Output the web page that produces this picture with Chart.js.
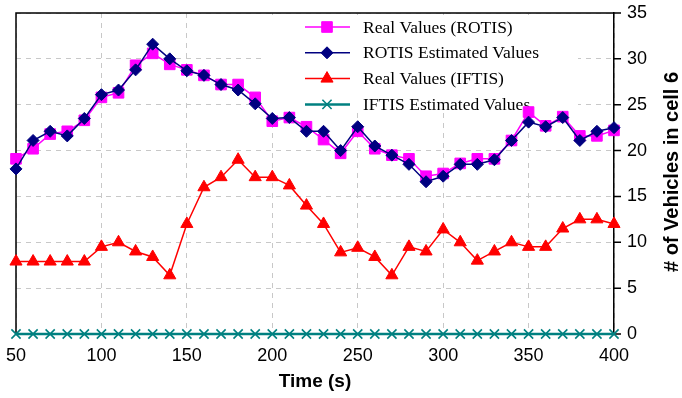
<!DOCTYPE html>
<html>
<head>
<meta charset="utf-8">
<script src="https://cdn.jsdelivr.net/npm/chart.js@4.4.0/dist/chart.umd.min.js"></script>
<style>
  html, body { margin: 0; padding: 0; background: #ffffff; }
</style>
</head>
<body>
<canvas id="cellChart" width="682" height="398"></canvas>
<script>
const timeSteps = [50, 60, 70, 80, 90, 100, 110, 120, 130, 140, 150, 160, 170, 180, 190, 200, 210, 220,
                   230, 240, 250, 260, 270, 280, 290, 300, 310, 320, 330, 340, 350, 360, 370, 380, 390, 400];

const realRotis = [19.1, 20.2, 21.8, 22.1, 23.3, 25.8, 26.3, 29.3, 30.6, 29.4, 28.8, 28.2, 27.2, 27.2, 25.8, 23.2, 23.6, 22.6,
                   21.2, 19.7, 22.1, 20.2, 19.5, 19.1, 17.2, 17.5, 18.6, 19.1, 19.1, 21.1, 24.2, 22.7, 23.7, 21.6, 21.6, 22.2];

const rotisEstimated = [18.0, 21.1, 22.1, 21.6, 23.5, 26.1, 26.6, 28.8, 31.6, 30.0, 28.7, 28.2, 27.2, 26.6, 25.1, 23.5, 23.6, 22.1,
                        22.1, 20.0, 22.6, 20.5, 19.5, 18.5, 16.6, 17.2, 18.5, 18.5, 19.0, 21.1, 23.1, 22.6, 23.6, 21.1, 22.1, 22.5];

const realIftis = [7.9, 7.9, 7.9, 7.9, 7.9, 9.5, 10.0, 9.0, 8.4, 6.4, 12.0, 16.0, 17.1, 19.0, 17.1, 17.1, 16.2, 14.0,
                   12.0, 8.9, 9.4, 8.4, 6.4, 9.5, 9.0, 11.4, 10.0, 8.0, 9.0, 10.0, 9.5, 9.5, 11.5, 12.5, 12.5, 12.0];

const iftisEstimated = [0, 0, 0, 0, 0, 0, 0, 0, 0, 0, 0, 0, 0, 0, 0, 0, 0, 0,
                        0, 0, 0, 0, 0, 0, 0, 0, 0, 0, 0, 0, 0, 0, 0, 0, 0, 0];

const yTicks = [0, 5, 10, 15, 20, 25, 30, 35];
const xTitle = 'Time (s)';
const yTitle = '# of Vehicles in cell 6';


function toPoints(values) {
    return timeSteps.map((t, i) => ({ x: t, y: values[i] }));
}

// legend box, frame, y tick marks and the right-hand title (reads bottom to top)
const frameAndLegend = {
    id: 'frameAndLegend',
    beforeDatasetsDraw(chart) {
        const ctx = chart.ctx;
        const area = chart.chartArea;
        const yScale = chart.scales.y;

        ctx.save();
        ctx.fillStyle = '#ffffff';
        ctx.fillRect(265, 15, 313, 97);

        ctx.strokeStyle = '#000000';
        ctx.lineWidth = 1.5;
        ctx.beginPath();
        ctx.moveTo(area.left, area.bottom);
        ctx.lineTo(area.left, area.top);
        ctx.lineTo(area.right, area.top);
        yTicks.forEach(v => {
            const py = yScale.getPixelForValue(v);
            ctx.moveTo(area.right, py);
            ctx.lineTo(area.right + 7, py);
        });
        ctx.stroke();

        ctx.font = '17.5px "Liberation Serif"';
        ctx.textAlign = 'left';
        ctx.textBaseline = 'middle';
        chart.data.datasets.forEach((ds, i) => {
            const y = 27 + i * 25.8;
            ctx.strokeStyle = ds.borderColor;
            ctx.lineWidth = ds.borderWidth;
            ctx.beginPath();
            ctx.moveTo(305, y);
            ctx.lineTo(350, y);
            ctx.stroke();

            ctx.fillStyle = ds.pointBackgroundColor;
            ctx.strokeStyle = ds.pointBorderColor;
            ctx.lineWidth = ds.pointBorderWidth;
            Chart.helpers.drawPoint(ctx, {
                pointStyle: ds.pointStyle,
                radius: ds.pointRadius,
                borderWidth: ds.pointBorderWidth,
                rotation: 0
            }, 327, y);

            ctx.fillStyle = '#000000';
            ctx.fillText(ds.label, 363, y + 1);
        });

        ctx.translate(672, 172);
        ctx.rotate(-Math.PI / 2);
        ctx.font = 'bold 20px "Liberation Sans"';
        ctx.textAlign = 'center';
        ctx.fillText(yTitle, 0, 0);
        ctx.restore();
    }
};

function createCellChart() {
    const ctx = document.getElementById('cellChart').getContext('2d');

    const cellChartConfig = {
        type: 'line',
        data: {
            datasets: [
                {
                    label: 'Real Values (ROTIS)',
                    data: toPoints(realRotis),
                    borderColor: '#ff00ff',
                    borderWidth: 1.5,
                    pointStyle: 'rect',
                    pointRadius: 7.5,
                    pointBackgroundColor: '#ff00ff',
                    pointBorderColor: '#ff00ff',
                    pointBorderWidth: 1,
                    order: 1
                },
                {
                    label: 'ROTIS Estimated Values',
                    data: toPoints(rotisEstimated),
                    borderColor: '#000080',
                    borderWidth: 1.5,
                    pointStyle: 'rectRot',
                    pointRadius: 6,
                    pointBackgroundColor: '#000080',
                    pointBorderColor: '#000080',
                    pointBorderWidth: 1,
                    order: 0
                },
                {
                    label: 'Real Values (IFTIS)',
                    data: toPoints(realIftis),
                    borderColor: '#ff0000',
                    borderWidth: 1.5,
                    pointStyle: 'triangle',
                    pointRadius: 7,
                    pointBackgroundColor: '#ff0000',
                    pointBorderColor: '#ff0000',
                    pointBorderWidth: 1,
                    order: 2
                },
                {
                    label: 'IFTIS Estimated Values',
                    data: toPoints(iftisEstimated),
                    borderColor: '#008080',
                    borderWidth: 2.5,
                    pointStyle: 'crossRot',
                    pointRadius: 6.5,
                    pointBackgroundColor: '#008080',
                    pointBorderColor: '#008080',
                    pointBorderWidth: 1.6,
                    order: 3
                }
            ]
        },
        options: {
            responsive: false,
            animation: false,
            clip: false,
            layout: { padding: { left: 16, top: 13, right: 0, bottom: 0 } },
            plugins: {
                legend: { display: false },
                tooltip: { enabled: false }
            },
            elements: { line: { tension: 0 } },
            scales: {
                x: {
                    type: 'linear',
                    min: 50,
                    max: 400,
                    ticks: {
                        stepSize: 50,
                        color: '#000000',
                        padding: 11,
                        font: { family: '"Liberation Sans"', size: 18 }
                    },
                    grid: { color: '#c8c8c8', drawTicks: false },
                    border: { display: true, color: '#000000', width: 1.5, dash: [5, 5] },
                    title: {
                        display: true,
                        text: xTitle,
                        color: '#000000',
                        padding: { top: 0, bottom: 5 },
                        font: { family: '"Liberation Sans"', size: 19, weight: 'bold' }
                    },
                    afterFit(scale) {
                        scale.height = 64;
                        scale.paddingLeft = 0;
                        scale.paddingRight = 0;
                    }
                },
                y: {
                    position: 'right',
                    min: 0,
                    max: 35,
                    ticks: {
                        stepSize: 5,
                        color: '#000000',
                        padding: 13,
                        font: { family: '"Liberation Sans"', size: 18 }
                    },
                    grid: { color: '#c8c8c8', drawTicks: false },
                    border: { display: true, color: '#000000', width: 1.5, dash: [5, 5] },
                    afterFit(scale) {
                        scale.width = 68;
                        scale.paddingTop = 0;
                        scale.paddingBottom = 0;
                    }
                }
            }
        },
        plugins: [frameAndLegend]
    };

    new Chart(ctx, cellChartConfig);
}

createCellChart();
</script>
</body>
</html>
